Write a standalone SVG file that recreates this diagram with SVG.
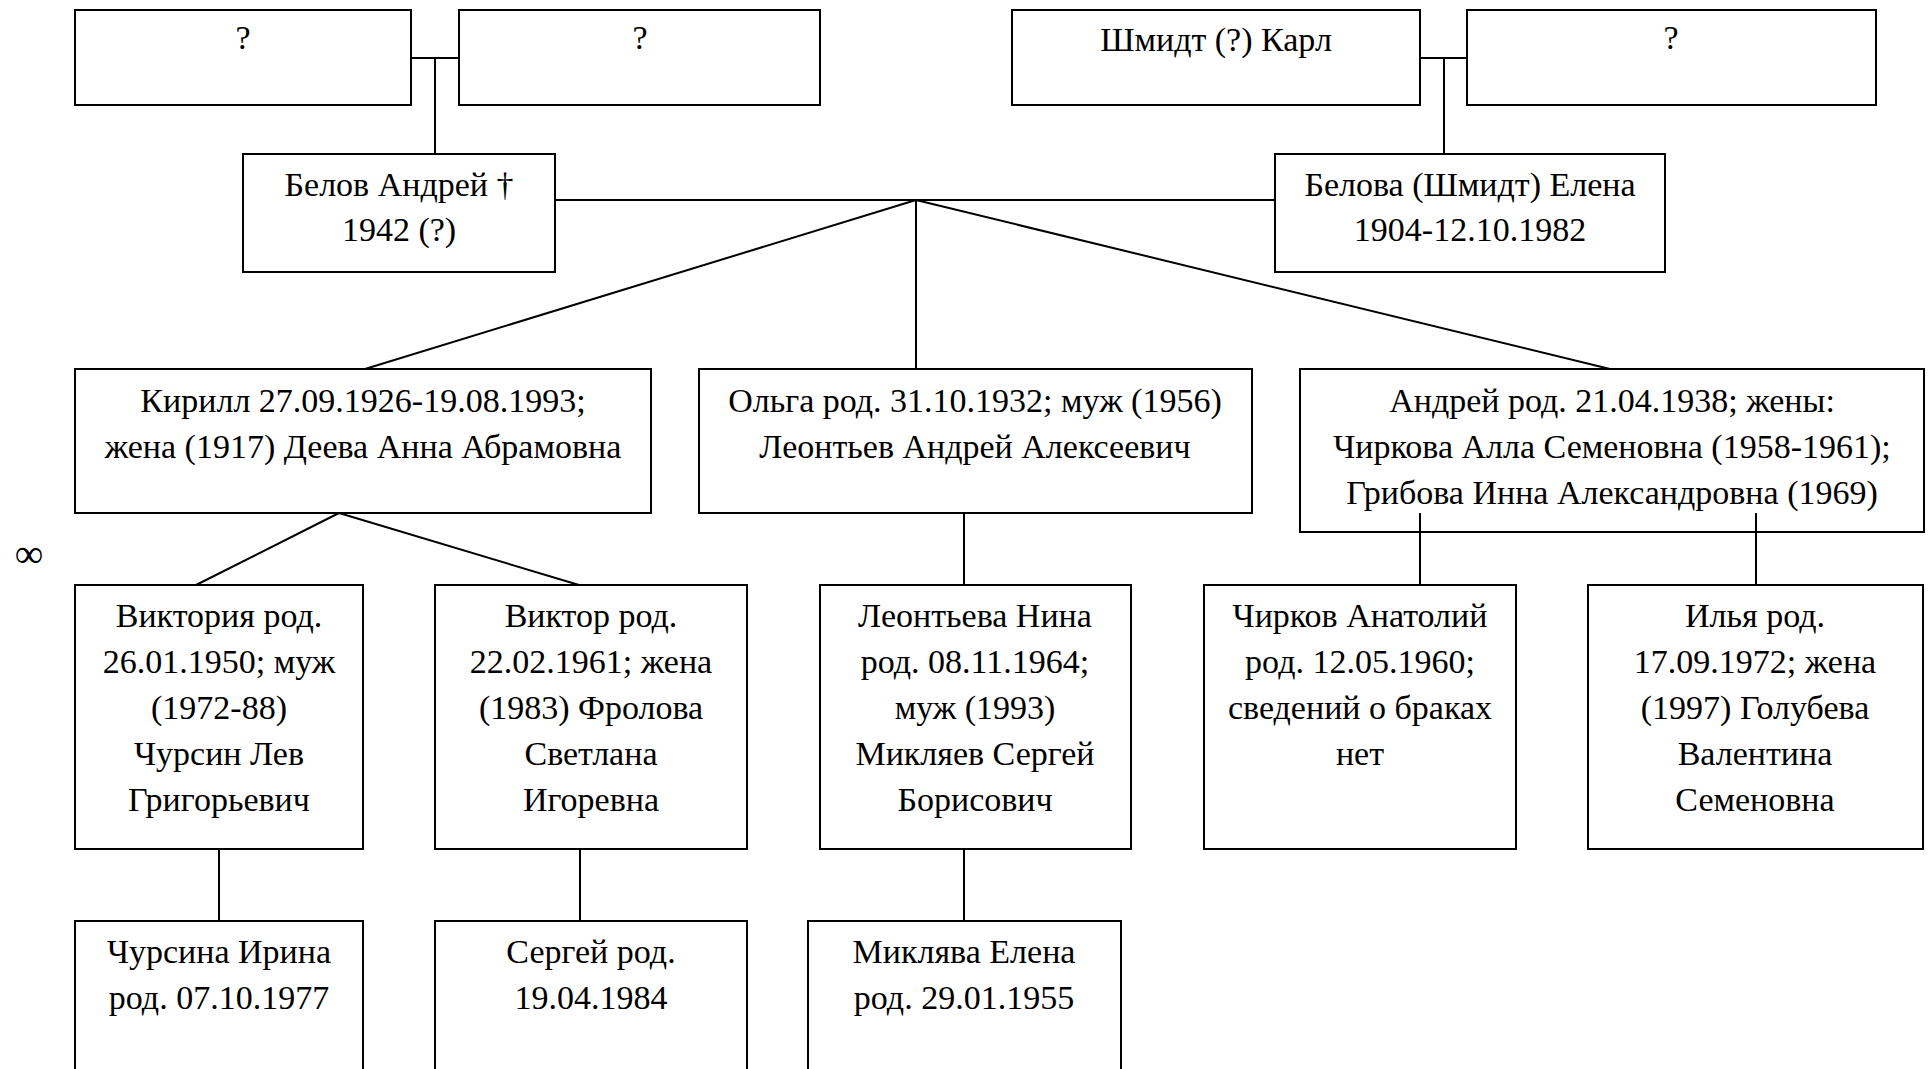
<svg xmlns="http://www.w3.org/2000/svg" width="1928" height="1069" viewBox="0 0 1928 1069">
<style>
.box{fill:#fff;stroke:#000;stroke-width:2}
.ln{fill:none;stroke:#000;stroke-width:2}
text{font-family:"Liberation Serif","Times New Roman",serif;font-size:34px;fill:#000;text-anchor:middle}
</style>
<rect width="1928" height="1069" fill="#fff"/>
<g id="n-unknown1"><rect class="box" x="75" y="10" width="336" height="95"/><text x="243" y="49">?</text></g>
<g id="n-unknown2"><rect class="box" x="459" y="10" width="361" height="95"/><text x="640" y="49">?</text></g>
<g id="n-karl"><rect class="box" x="1012" y="10" width="408" height="95"/><text x="1216" y="51">Шмидт (?) Карл</text></g>
<g id="n-unknown3"><rect class="box" x="1467" y="10" width="409" height="95"/><text x="1671" y="49">?</text></g>
<g id="n-belov"><rect class="box" x="243" y="154" width="312" height="118"/><text x="399" y="196">Белов Андрей †</text><text x="399" y="241">1942 (?)</text></g>
<g id="n-belova"><rect class="box" x="1275" y="154" width="390" height="118"/><text x="1470" y="196">Белова (Шмидт) Елена</text><text x="1470" y="241">1904-12.10.1982</text></g>
<g id="n-kirill"><rect class="box" x="75" y="369" width="576" height="144"/><text x="363" y="412">Кирилл 27.09.1926-19.08.1993;</text><text x="363" y="458">жена (1917) Деева Анна Абрамовна</text></g>
<g id="n-olga"><rect class="box" x="699" y="369" width="553" height="144"/><text x="975" y="412">Ольга род. 31.10.1932; муж (1956)</text><text x="975" y="458">Леонтьев Андрей Алексеевич</text></g>
<g id="n-andrei"><rect class="box" x="1300" y="369" width="624" height="163"/><text x="1612" y="412">Андрей род. 21.04.1938; жены:</text><text x="1612" y="458">Чиркова Алла Семеновна (1958-1961);</text><text x="1612" y="504">Грибова Инна Александровна (1969)</text></g>
<text x="29" y="567" style="font-size:40px">∞</text>
<g id="n-viktoria"><rect class="box" x="75" y="585" width="288" height="264"/><text x="219" y="627">Виктория род.</text><text x="219" y="673">26.01.1950; муж</text><text x="219" y="719">(1972-88)</text><text x="219" y="765">Чурсин Лев</text><text x="219" y="811">Григорьевич</text></g>
<g id="n-viktor"><rect class="box" x="435" y="585" width="312" height="264"/><text x="591" y="627">Виктор род.</text><text x="591" y="673">22.02.1961; жена</text><text x="591" y="719">(1983) Фролова</text><text x="591" y="765">Светлана</text><text x="591" y="811">Игоревна</text></g>
<g id="n-leontieva"><rect class="box" x="820" y="585" width="311" height="264"/><text x="975" y="627">Леонтьева Нина</text><text x="975" y="673">род. 08.11.1964;</text><text x="975" y="719">муж (1993)</text><text x="975" y="765">Микляев Сергей</text><text x="975" y="811">Борисович</text></g>
<g id="n-chirkov"><rect class="box" x="1204" y="585" width="312" height="264"/><text x="1360" y="627">Чирков Анатолий</text><text x="1360" y="673">род. 12.05.1960;</text><text x="1360" y="719">сведений о браках</text><text x="1360" y="765">нет</text></g>
<g id="n-ilya"><rect class="box" x="1588" y="585" width="335" height="264"/><text x="1755" y="627">Илья род.</text><text x="1755" y="673">17.09.1972; жена</text><text x="1755" y="719">(1997) Голубева</text><text x="1755" y="765">Валентина</text><text x="1755" y="811">Семеновна</text></g>
<g id="n-chursina"><rect class="box" x="75" y="921" width="288" height="160"/><text x="219" y="963">Чурсина Ирина</text><text x="219" y="1009">род. 07.10.1977</text></g>
<g id="n-sergei"><rect class="box" x="435" y="921" width="312" height="160"/><text x="591" y="963">Сергей род.</text><text x="591" y="1009">19.04.1984</text></g>
<g id="n-miklyava"><rect class="box" x="808" y="921" width="313" height="160"/><text x="964" y="963">Миклява Елена</text><text x="964" y="1009">род. 29.01.1955</text></g>
<g id="connectors">
<path class="ln" d="M411 58H459M435 58V154"/>
<path class="ln" d="M1420 58H1467M1444 58V154"/>
<path class="ln" d="M555 200H1275"/>
<path class="ln" d="M916 200L365 369M916 200V369M916 200L1610 369"/>
<path class="ln" d="M339 513L196 585M339 513L579 585"/>
<path class="ln" d="M964 513V585"/>
<path class="ln" d="M1420 513V585M1756 513V585"/>
<path class="ln" d="M219 849V921M580 849V921M964 849V921"/>
</g>
</svg>
